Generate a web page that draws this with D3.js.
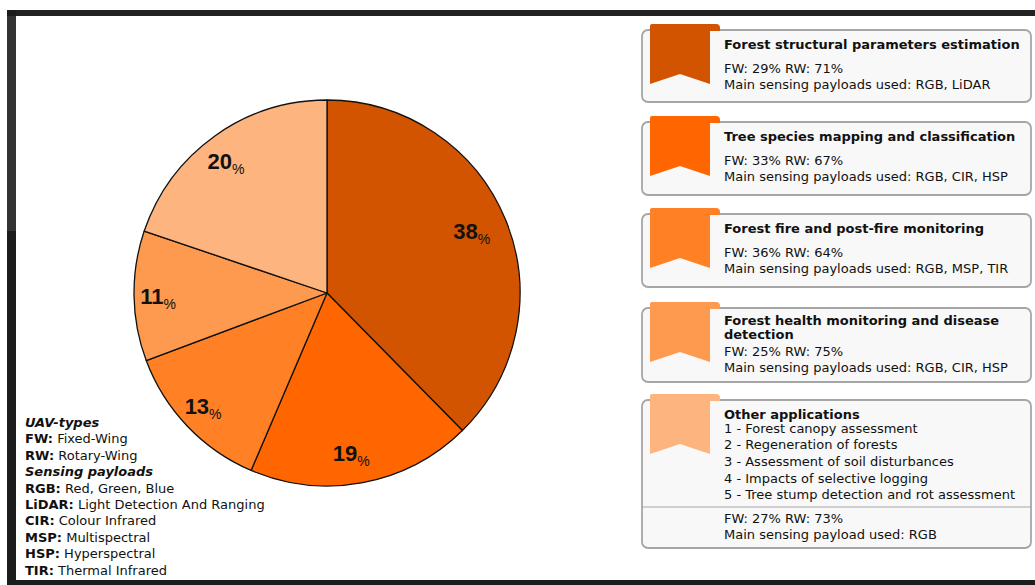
<!DOCTYPE html>
<html>
<head>
<meta charset="utf-8">
<script src="https://cdn.jsdelivr.net/npm/d3@7"></script>
<style>
  html, body { margin: 0; padding: 0; background: #fff; }
  svg { display: block; }
  text { font-family: "DejaVu Sans", Verdana, sans-serif; fill: #111; }
</style>
</head>
<body>
<svg id="chart" width="1035" height="585"></svg>
<script>
const width = 1035, height = 585;

// application categories, clockwise from 12 o'clock
const categories = [
    "Forest structural parameters estimation",
    "Tree species mapping and classification",
    "Forest fire and post-fire monitoring",
    "Forest health monitoring and disease detection",
    "Other applications"
];
const shares = [38, 19, 13, 11, 20];
const fwShare = [29, 33, 36, 25, 27];
const rwShare = [71, 67, 64, 75, 73];
const payloads = ["RGB, LiDAR", "RGB, CIR, HSP", "RGB, MSP, TIR", "RGB, CIR, HSP", "RGB"];
const otherItems = [
    "Forest canopy assessment",
    "Regeneration of forests",
    "Assessment of soil disturbances",
    "Impacts of selective logging",
    "Tree stump detection and rot assessment"
];
const colors = ["#d35400", "#ff6600", "#ff8025", "#fd9a50", "#fdb47f"];

const uavTypes = [["FW:", "Fixed-Wing"], ["RW:", "Rotary-Wing"]];
const sensors = [
    ["RGB:", "Red, Green, Blue"],
    ["LiDAR:", "Light Detection And Ranging"],
    ["CIR:", "Colour Infrared"],
    ["MSP:", "Multispectral"],
    ["HSP:", "Hyperspectral"],
    ["TIR:", "Thermal Infrared"]
];

const svg = d3.select("#chart");

// dark frame around the figure
svg.append("rect").attr("x", 7).attr("y", 10).attr("width", width - 7).attr("height", 6).attr("fill", "#222");
svg.append("rect").attr("x", 7).attr("y", 10).attr("width", 9).attr("height", height - 10).attr("fill", "#1c1c1c");
svg.append("rect").attr("x", 7).attr("y", 16).attr("width", 9).attr("height", 215).attr("fill", "#333");
svg.append("rect").attr("x", 7).attr("y", 580).attr("width", width - 7).attr("height", 5).attr("fill", "#1c1c1c");

// pie
const cx = 327, cy = 293, radius = 193;
const pie = d3.pie().sort(null).value(d => d);
const arcs = pie(shares);
const arc = d3.arc().innerRadius(0).outerRadius(radius);
const labelArc = d3.arc().innerRadius(163).outerRadius(163);

const pieG = svg.append("g").attr("transform", `translate(${cx},${cy})`);

pieG.selectAll("path.slice")
    .data(arcs)
    .enter()
    .append("path")
    .attr("class", "slice")
    .attr("d", arc)
    .attr("fill", (d, i) => colors[i])
    .attr("stroke", "#111")
    .attr("stroke-width", 1.3)
    .attr("stroke-linejoin", "round");

const labels = pieG.selectAll("text.pct")
    .data(arcs)
    .enter()
    .append("text")
    .attr("class", "pct")
    .attr("text-anchor", "middle")
    .attr("x", d => labelArc.centroid(d)[0] - 6)
    .attr("y", d => labelArc.centroid(d)[1] + 8)
    .style("font-family", "'Liberation Sans', Arial, sans-serif");

labels.append("tspan")
    .style("font-weight", "bold")
    .style("font-size", "22px")
    .text(d => d.data);
labels.append("tspan")
    .attr("dy", 5)
    .style("font-size", "14px")
    .text("%");

// bottom-left glossary
const gloss = svg.append("g").attr("transform", "translate(25,0)");
let gy = 427;
const lineH = 16.4;

function heading(txt) {
    gloss.append("text")
        .attr("y", gy)
        .style("font-size", "13px")
        .style("font-weight", "bold")
        .style("font-style", "italic")
        .text(txt);
    gy += lineH;
}
function entry(pair) {
    const t = gloss.append("text").attr("y", gy).style("font-size", "13px");
    t.append("tspan").style("font-weight", "bold").text(pair[0]);
    t.append("tspan").text(" " + pair[1]);
    gy += lineH;
}
heading("UAV-types");
uavTypes.forEach(entry);
heading("Sensing payloads");
sensors.forEach(entry);

// legend boxes on the right
const boxX = 642, boxW = 389, textX = 724;
const boxTops = [30, 122, 214, 308, 400];
const boxHeights = [72, 73, 73, 74, 148];

function wrapWords(str, maxW, probe) {
    const words = str.split(" ");
    const lines = [];
    let cur = "";
    words.forEach(w => {
        const test = cur ? cur + " " + w : w;
        probe.text(test);
        if (probe.node().getComputedTextLength() > maxW && cur) {
            lines.push(cur);
            cur = w;
        } else {
            cur = test;
        }
    });
    lines.push(cur);
    return lines;
}

const probe = svg.append("text")
    .style("font-size", "13px")
    .style("font-weight", "bold")
    .attr("opacity", 0);

categories.forEach((name, i) => {
    const top = boxTops[i];
    const g = svg.append("g");

    g.append("rect")
        .attr("x", boxX)
        .attr("y", top)
        .attr("width", boxW)
        .attr("height", boxHeights[i])
        .attr("rx", 6)
        .attr("fill", "#f8f8f8")
        .attr("stroke", "#a6a6a6")
        .attr("stroke-width", 1.8);

    // bookmark ribbon
    const rt = top - 6, rb = rt + 60;
    g.append("path")
        .attr("d", `M650,${rt + 2} Q650,${rt} 652,${rt} H716 Q720,${rt} 720,${rt + 4} V${top + 1} H710 V${rb} L680,${rb - 10} L650,${rb} Z`)
        .attr("fill", colors[i]);

    const titleLines = wrapWords(name, 300, probe);
    let y = top + (titleLines.length > 1 ? 17 : 19);
    titleLines.forEach(ln => {
        g.append("text")
            .attr("x", textX)
            .attr("y", y)
            .style("font-size", "13px")
            .style("font-weight", "bold")
            .text(ln);
        y += 13.5;
    });

    if (name !== "Other applications") {
        const y1 = titleLines.length > 1 ? top + 47.5 : top + 43;
        g.append("text").attr("x", textX).attr("y", y1).style("font-size", "13px")
            .text(`FW: ${fwShare[i]}% RW: ${rwShare[i]}%`);
        g.append("text").attr("x", textX).attr("y", y1 + 16.3).style("font-size", "13px")
            .text(`Main sensing payloads used: ${payloads[i]}`);
    } else {
        let iy = top + 32.5;
        otherItems.forEach((item, k) => {
            g.append("text").attr("x", textX).attr("y", iy).style("font-size", "13px")
                .text(`${k + 1} - ${item}`);
            iy += 16.7;
        });
        g.append("line")
            .attr("x1", boxX).attr("x2", boxX + boxW)
            .attr("y1", top + 107).attr("y2", top + 107)
            .attr("stroke", "#a6a6a6").attr("stroke-width", 1.2);
        g.append("text").attr("x", textX).attr("y", top + 123).style("font-size", "13px")
            .text(`FW: ${fwShare[i]}% RW: ${rwShare[i]}%`);
        g.append("text").attr("x", textX).attr("y", top + 139).style("font-size", "13px")
            .text(`Main sensing payload used: ${payloads[i]}`);
    }
});

probe.remove();
</script>
</body>
</html>
